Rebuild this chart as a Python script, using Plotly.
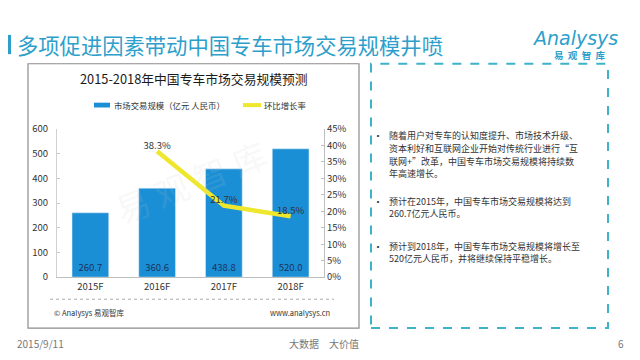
import plotly.graph_objects as go

# ---- data ----
categories = ["2015F", "2016F", "2017F", "2018F"]
market_size = [260.7, 360.6, 438.8, 520.0]
growth_cats = ["2016F", "2017F", "2018F"]
growth_rate = [0.383, 0.217, 0.185]
growth_labels = ["38.3%", "21.7%", "18.5%"]
bar_labels = ["260.7", "360.6", "438.8", "520.0"]

page_title = "多项促进因素带动中国专车市场交易规模井喷"
chart_title = "2015-2018年中国专车市场交易规模预测"
legend_bar = "市场交易规模（亿元 人民币）"
legend_line = "环比增长率"
bullets = [
    ["随着用户对专车的认知度提升、市场技术升级、",
     "资本利好和互联网企业开始对传统行业进行“互",
     "联网+”改革，中国专车市场交易规模将持续数",
     "年高速增长。"],
    ["预计在2015年，中国专车市场交易规模将达到",
     "260.7亿元人民币。"],
    ["预计到2018年，中国专车市场交易规模将增长至",
     "520亿元人民币，并将继续保持平稳增长。"],
]

W, H = 640, 360
FONT = "Noto Sans CJK SC, Noto Sans, sans-serif"
BLUE = "#1A8FD6"
YELLOW = "#EFE72E"
TEAL = "#2E9FCB"


def px(x):
    return x / W


def py(y):
    return 1 - y / H


fig = go.Figure()
fig.add_trace(go.Bar(
    x=categories, y=market_size, marker_color=BLUE, text=bar_labels,
    textposition="inside", insidetextanchor="start",
    textfont=dict(color="#1B3360", size=9.5, family=FONT),
    showlegend=False, width=0.55, hoverinfo="skip",
))
fig.add_trace(go.Scatter(
    x=growth_cats, y=growth_rate, yaxis="y2", mode="lines+text",
    line=dict(color=YELLOW, width=4.5), text=growth_labels,
    textposition="top center", textfont=dict(color="#333333", size=9.5, family=FONT),
    showlegend=False, cliponaxis=False, hoverinfo="skip",
))

shapes = []
annotations = []

# page title + bar
shapes.append(dict(type="rect", xref="paper", yref="paper", x0=px(8), x1=px(11),
                   y0=py(48), y1=py(28), fillcolor=TEAL, line_width=0))
annotations.append(dict(text=page_title, x=px(15), y=py(38), xref="paper", yref="paper",
                        xanchor="left", yanchor="middle", showarrow=False,
                        font=dict(size=21.3, color=TEAL, family=FONT)))
# logo
annotations.append(dict(text="<i>Analysys</i>", x=px(575), y=py(31), xref="paper", yref="paper",
                        xanchor="center", yanchor="middle", showarrow=False,
                        font=dict(size=19, color=TEAL, family="DejaVu Sans")))
annotations.append(dict(text="<b>易  观  智  库</b>", x=px(579), y=py(49), xref="paper", yref="paper",
                        xanchor="center", yanchor="middle", showarrow=False,
                        font=dict(size=9.5, color=TEAL, family=FONT)))

# chart box
shapes.append(dict(type="rect", xref="paper", yref="paper", x0=px(28), x1=px(359),
                   y0=py(333), y1=py(58), line=dict(color="#8C8C8C", width=1.2)))
# dashed text box
shapes.append(dict(type="rect", xref="paper", yref="paper", x0=px(371), x1=px(608),
                   y0=py(333), y1=py(58), line=dict(color="#3DB2C8", width=2, dash="dash")))

annotations.append(dict(text=chart_title, x=px(194), y=py(73), xref="paper", yref="paper",
                        xanchor="center", yanchor="middle", showarrow=False,
                        font=dict(size=12.8, color="#1a1a1a", family=FONT)))
# legend
shapes.append(dict(type="rect", xref="paper", yref="paper", x0=px(94), x1=px(110),
                   y0=py(103.5), y1=py(98.5), fillcolor=BLUE, line_width=0))
annotations.append(dict(text=legend_bar, x=px(112), y=py(101), xref="paper", yref="paper",
                        xanchor="left", yanchor="middle", showarrow=False,
                        font=dict(size=8.4, color="#333333", family=FONT)))
shapes.append(dict(type="line", xref="paper", yref="paper", x0=px(243), x1=px(261),
                   y0=py(101), y1=py(101), line=dict(color=YELLOW, width=4)))
annotations.append(dict(text=legend_line, x=px(262), y=py(101), xref="paper", yref="paper",
                        xanchor="left", yanchor="middle", showarrow=False,
                        font=dict(size=8.4, color="#333333", family=FONT)))

# watermark
annotations.append(dict(text="易 观 智 库", x=px(190), y=py(180), xref="paper", yref="paper",
                        xanchor="center", yanchor="middle", showarrow=False, textangle=-22,
                        font=dict(size=34, color="rgba(200,200,200,0.14)", family=FONT)))

# separator and footer inside chart box
shapes.append(dict(type="line", xref="paper", yref="paper", x0=px(50), x1=px(334),
                   y0=py(303), y1=py(303), line=dict(color="#AAAAAA", width=1, dash="dot")))
annotations.append(dict(text="© Analysys 易观智库", x=px(52), y=py(317), xref="paper", yref="paper",
                        xanchor="left", yanchor="middle", showarrow=False,
                        font=dict(size=7.5, color="#333333", family=FONT)))
annotations.append(dict(text="www.analysys.cn", x=px(332), y=py(317), xref="paper", yref="paper",
                        xanchor="right", yanchor="middle", showarrow=False,
                        font=dict(size=7.5, color="#333333", family=FONT)))

# bullets: one annotation per line
bullet_tops = [133, 201, 248]
LINE_STEP = 13.1
for top, lines in zip(bullet_tops, bullets):
    annotations.append(dict(text="•", x=px(378), y=py(top), xref="paper", yref="paper",
                            xanchor="center", yanchor="middle", showarrow=False,
                            font=dict(size=10, color="#333333", family=FONT)))
    for i, ln in enumerate(lines):
        annotations.append(dict(text=ln, x=px(388), y=py(top + i * LINE_STEP),
                                xref="paper", yref="paper", borderpad=0,
                                xanchor="left", yanchor="middle", showarrow=False,
                                font=dict(size=9.0, color="#333333", family=FONT)))

# page footer
for txt, x, anc in [("2015/9/11", 15, "left"), ("大数据　大价值", 287, "left"), ("6", 626, "right")]:
    annotations.append(dict(text=txt, x=px(x), y=py(349), xref="paper", yref="paper",
                            xanchor=anc, yanchor="middle", showarrow=False,
                            font=dict(size=10, color="#777777", family=FONT)))

fig.update_layout(
    width=W, height=H, margin=dict(l=0, r=0, t=0, b=0),
    paper_bgcolor="white", plot_bgcolor="white",
    font=dict(family=FONT, size=9.5, color="#404040"),
    bargap=0.45, hovermode=False,
    xaxis=dict(domain=[px(57), px(324)], showline=True, linecolor="#BFBFBF", ticks="",
               tickfont=dict(size=9.5, color="#333333"), showgrid=False),
    yaxis=dict(domain=[py(280), py(126)], range=[0, 600], dtick=100, showgrid=False,
               showline=True, linecolor="#D0D0D0", ticks="inside", ticklen=3, tickcolor="#C8C8C8",
               ticklabelstandoff=6,
               tickfont=dict(size=9.5, color="#333333"), zeroline=False),
    yaxis2=dict(overlaying="y", side="right", range=[0, 0.45], dtick=0.05, tickformat=".0%",
                showgrid=False, showline=True, linecolor="#BFBFBF", ticks="inside", ticklen=3,
                tickcolor="#BFBFBF", tickfont=dict(size=9.5, color="#333333"), zeroline=False),
    shapes=shapes, annotations=annotations,
)

fig.write_html("out.html", config={"displayModeBar": False},
               post_script="document.body.style.margin='0';")
